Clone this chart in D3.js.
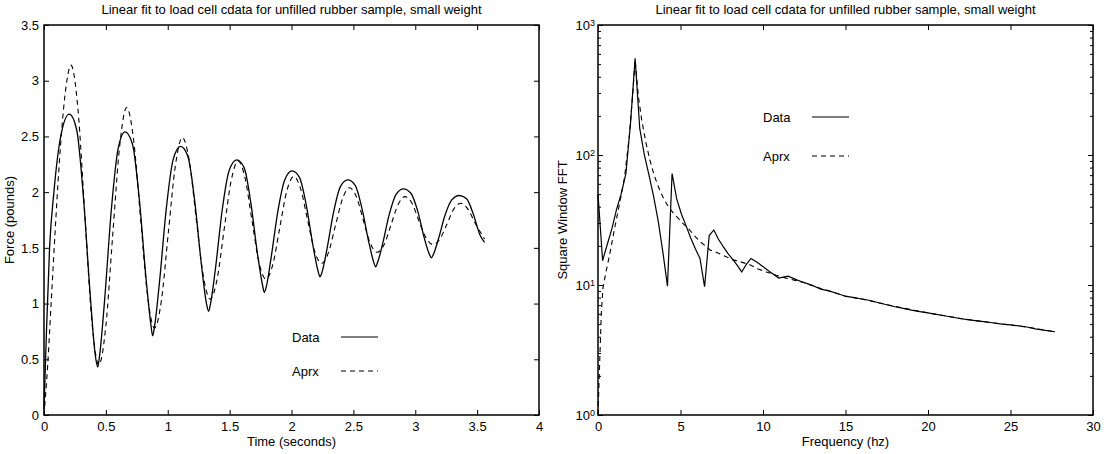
<!DOCTYPE html>
<html>
<head>
<meta charset="utf-8">
<script src="https://cdn.jsdelivr.net/npm/d3@7"></script>
<style>
  body { margin: 0; background: #fff; }
  text { font-family: "Liberation Sans", Arial, sans-serif; fill: #000; }
</style>
</head>
<body>
<div id="wrapper"></div>
<script>
// ---- left panel: time series (seconds, pounds) ----
const timeData = [0, 0.02, 0.045, 0.08, 0.135, 0.204, 0.264, 0.319, 0.374, 0.414, 0.434, 0.45, 0.489, 0.544, 0.599, 0.655,
  0.715, 0.77, 0.825, 0.865, 0.878, 0.894, 0.933, 0.988, 1.043, 1.103, 1.163, 1.218, 1.273, 1.313, 1.33, 1.346, 1.385,
  1.44, 1.495, 1.557, 1.617, 1.672, 1.727, 1.767, 1.78, 1.796, 1.835, 1.89, 1.945, 2.005, 2.065, 2.12, 2.175, 2.215,
  2.23, 2.246, 2.285, 2.34, 2.395, 2.455, 2.515, 2.57, 2.625, 2.665, 2.68, 2.696, 2.735, 2.79, 2.845, 2.905, 2.965,
  3.02, 3.075, 3.115, 3.13, 3.146, 3.185, 3.24, 3.295, 3.355, 3.415, 3.47, 3.525, 3.56];
const forceData = [0.05, 0.75, 1.5, 2.0, 2.5, 2.70, 2.56, 1.95, 1.07, 0.54, 0.43, 0.54, 1.02, 1.84, 2.39, 2.54,
  2.43, 1.94, 1.22, 0.80, 0.71, 0.80, 1.19, 1.85, 2.29, 2.41, 2.32, 1.92, 1.34, 1.00, 0.93, 1.00, 1.31,
  1.84, 2.19, 2.29, 2.22, 1.90, 1.43, 1.16, 1.10, 1.15, 1.41, 1.83, 2.11, 2.19, 2.13, 1.88, 1.51, 1.29,
  1.24, 1.28, 1.48, 1.82, 2.05, 2.11, 2.06, 1.85, 1.55, 1.37, 1.33, 1.37, 1.53, 1.80, 1.98, 2.03, 1.99,
  1.83, 1.58, 1.44, 1.41, 1.44, 1.57, 1.79, 1.93, 1.97, 1.94, 1.80, 1.61, 1.55];

const timeAprx = [0, 0.03, 0.06, 0.09, 0.12, 0.15, 0.185, 0.218, 0.274, 0.33, 0.387, 0.443, 0.499, 0.555, 0.612, 0.668,
  0.724, 0.78, 0.837, 0.893, 0.949, 1.005, 1.062, 1.118, 1.174, 1.23, 1.287, 1.343, 1.399, 1.455, 1.512, 1.568,
  1.624, 1.68, 1.737, 1.793, 1.849, 1.905, 1.962, 2.018, 2.074, 2.13, 2.187, 2.243, 2.299, 2.355, 2.412, 2.468,
  2.524, 2.58, 2.637, 2.693, 2.749, 2.805, 2.862, 2.918, 2.974, 3.03, 3.087, 3.143, 3.199, 3.255, 3.312, 3.368,
  3.424, 3.48, 3.56];
const forceAprx = [0, 0.45, 1.05, 1.65, 2.2, 2.65, 3.0, 3.14, 2.75, 1.80, 0.84, 0.45, 0.79, 1.61, 2.42, 2.76,
  2.47, 1.77, 1.07, 0.78, 1.03, 1.64, 2.24, 2.49, 2.28, 1.76, 1.25, 1.04, 1.22, 1.66, 2.10, 2.28,
  2.13, 1.75, 1.37, 1.22, 1.35, 1.68, 2.01, 2.14, 2.03, 1.75, 1.47, 1.36, 1.46, 1.70, 1.94, 2.04,
  1.96, 1.75, 1.54, 1.46, 1.53, 1.71, 1.89, 1.96, 1.90, 1.74, 1.59, 1.53, 1.58, 1.71, 1.85, 1.90,
  1.85, 1.73, 1.58];

const timeTicks = [0, 0.5, 1, 1.5, 2, 2.5, 3, 3.5, 4];
const forceTicks = [0, 0.5, 1, 1.5, 2, 2.5, 3, 3.5];

// ---- right panel: spectrum (hz, |FFT|) ----
const freqData = [0, 0.28, 0.56, 0.84, 1.12, 1.4, 1.69, 1.97, 2.25, 2.53, 2.81, 3.09, 3.37, 3.65, 3.93, 4.21, 4.49,
  4.77, 5.06, 5.34, 5.62, 5.9, 6.18, 6.46, 6.74, 7.02, 7.3, 7.58, 7.87, 8.15, 8.43, 8.71, 8.99, 9.27, 9.55, 9.83,
  10.11, 10.39, 10.67, 10.95, 11.23, 11.52, 11.8, 12.08, 12.36, 12.64, 13, 13.5, 14, 14.5, 15, 15.5, 16, 16.5,
  17, 17.5, 18, 18.5, 19, 19.5, 20, 20.5, 21, 21.5, 22, 22.5, 23, 23.5, 24, 24.5, 25, 25.5, 26, 26.5, 27, 27.7];
const fftData = [50, 15.4, 20.5, 27, 38, 50, 72, 175, 555, 160, 100, 70, 48, 31, 18, 9.8, 72,
  46, 35, 28.5, 23, 19, 16, 9.7, 24, 26.5, 22.5, 19.8, 17.5, 15.8, 14.2, 12.6, 14.4, 16, 15.2, 14.4,
  13.5, 12.7, 12.0, 11.3, 11.5, 11.7, 11.3, 10.9, 10.6, 10.3, 9.9, 9.3, 9.0, 8.6, 8.2, 8.0, 7.8, 7.6,
  7.3, 7.05, 6.8, 6.6, 6.4, 6.25, 6.1, 5.95, 5.8, 5.65, 5.5, 5.4, 5.3, 5.2, 5.1, 5.0, 4.93, 4.85, 4.75, 4.6, 4.5, 4.37];

const freqAprx = [0, 0.1, 0.2, 0.3, 0.45, 0.7, 1.0, 1.3, 1.6, 1.9, 2.1, 2.25, 2.45, 2.65, 2.9, 3.15, 3.4, 3.66,
  3.95, 4.26, 4.55, 4.87, 5.17, 5.47, 5.8, 6.18, 6.5, 6.79, 7.1, 7.4, 7.8, 8.2, 8.7, 9.2, 9.7, 10.2, 10.8,
  11.4, 12, 12.5, 13, 13.5, 14, 14.5, 15, 16, 17, 18, 19, 20, 21, 22, 23, 24, 25, 26, 27, 27.7];
const fftAprx = [1, 2.5, 6, 9.5, 12, 17, 27, 42, 66, 140, 290, 540, 280, 186, 125, 91, 70, 57,
  47, 40, 36, 32.5, 29.5, 27.3, 24.3, 21.6, 20, 18.6, 18, 17.3, 16.4, 15.6, 15, 14.3, 13.3, 12.6, 11.9,
  11.3, 10.8, 10.4, 9.9, 9.4, 9.0, 8.6, 8.2, 7.8, 7.3, 6.85, 6.45, 6.1, 5.8, 5.52, 5.3, 5.1, 4.92, 4.75, 4.52, 4.37];

const freqTicks = [0, 5, 10, 15, 20, 25, 30];
const fftMajor = [1, 10, 100, 1000];
const fftMinor = [2, 3, 4, 5, 6, 7, 8, 9, 20, 30, 40, 50, 60, 70, 80, 90, 200, 300, 400, 500, 600, 700, 800, 900];

const titleText = 'Linear fit to load cell cdata for unfilled rubber sample, small weight';
const legendNames = ['Data', 'Aprx'];

const width = 1104, height = 454;
const plotTop = 25, plotBottom = 415;
const dash = '5,4';

const svg = d3.select('#wrapper').append('svg')
  .attr('width', width)
  .attr('height', height);

function styleAxis(g) {
  g.select('.domain').remove();
  g.attr('font-family', null).attr('font-size', null);
  g.selectAll('line').attr('stroke', '#000').attr('stroke-width', 1);
  g.selectAll('text').style('font-size', '13px');
}

function frame(x) {
  svg.append('rect')
    .attr('x', x.range()[0]).attr('y', plotTop)
    .attr('width', x.range()[1] - x.range()[0]).attr('height', plotBottom - plotTop)
    .attr('fill', 'none').attr('stroke', '#000').attr('stroke-width', 1.5);
}

function xAxes(x, ticks, fmt) {
  svg.append('g').attr('transform', `translate(0,${plotBottom})`)
    .call(d3.axisBottom(x).tickValues(ticks).tickSizeInner(-5).tickSizeOuter(0).tickPadding(7).tickFormat(fmt))
    .call(styleAxis);
  svg.append('g').attr('transform', `translate(0,${plotTop})`)
    .call(d3.axisTop(x).tickValues(ticks).tickSizeInner(-5).tickSizeOuter(0).tickFormat(''))
    .call(styleAxis);
}

function titles(x, xLabel, yLabel, yLabelX) {
  const cx = (x.range()[0] + x.range()[1]) / 2;
  svg.append('text').attr('x', cx).attr('y', 14)
    .attr('text-anchor', 'middle').style('font-size', '13px').text(titleText);
  svg.append('text').attr('x', cx).attr('y', 446)
    .attr('text-anchor', 'middle').style('font-size', '13px').text(xLabel);
  svg.append('text')
    .attr('transform', `translate(${yLabelX},${(plotTop + plotBottom) / 2}) rotate(-90)`)
    .attr('text-anchor', 'middle').style('font-size', '13px').text(yLabel);
}

function legend(lx, ly, gap) {
  legendNames.forEach((name, i) => {
    const yy = ly + i * gap;
    svg.append('text').attr('x', lx).attr('y', yy).attr('dy', '0.35em')
      .style('font-size', '13px').text(name);
    svg.append('line')
      .attr('x1', lx + 49).attr('x2', lx + 86).attr('y1', yy).attr('y2', yy)
      .attr('stroke', '#000').attr('stroke-width', 1.2)
      .attr('stroke-dasharray', i === 1 ? dash : null);
  });
}

// ---------- left: force vs time ----------
const xT = d3.scaleLinear().domain([0, 4]).range([44, 539]);
const yF = d3.scaleLinear().domain([0, 3.5]).range([plotBottom, plotTop]);

xAxes(xT, timeTicks, d3.format('~g'));
svg.append('g').attr('transform', `translate(${xT.range()[0]},0)`)
  .call(d3.axisLeft(yF).tickValues(forceTicks).tickSizeInner(-5).tickSizeOuter(0).tickPadding(5).tickFormat(d3.format('~g')))
  .call(styleAxis);
svg.append('g').attr('transform', `translate(${xT.range()[1]},0)`)
  .call(d3.axisRight(yF).tickValues(forceTicks).tickSizeInner(-5).tickSizeOuter(0).tickFormat(''))
  .call(styleAxis);

const lineT = d3.line().x(d => xT(d[0])).y(d => yF(d[1])).curve(d3.curveMonotoneX);
svg.append('path').attr('d', lineT(d3.zip(timeData, forceData)))
  .attr('fill', 'none').attr('stroke', '#000').attr('stroke-width', 1.3);
svg.append('path').attr('d', lineT(d3.zip(timeAprx, forceAprx)))
  .attr('fill', 'none').attr('stroke', '#000').attr('stroke-width', 1.1).attr('stroke-dasharray', dash);

frame(xT);
titles(xT, 'Time (seconds)', 'Force (pounds)', 14);
legend(292, 337, 34);

// ---------- right: spectrum ----------
const xF = d3.scaleLinear().domain([0, 30]).range([598, 1093]);
const yS = d3.scaleLog().domain([1, 1000]).range([plotBottom, plotTop]);

xAxes(xF, freqTicks, d3.format('d'));
[[d3.axisLeft, xF.range()[0]], [d3.axisRight, xF.range()[1]]].forEach(([ax, px]) => {
  svg.append('g').attr('transform', `translate(${px},0)`)
    .call(ax(yS).tickValues(fftMajor).tickSizeInner(-5).tickSizeOuter(0).tickFormat(''))
    .call(styleAxis);
  svg.append('g').attr('transform', `translate(${px},0)`)
    .call(ax(yS).tickValues(fftMinor).tickSizeInner(-3).tickSizeOuter(0).tickFormat(''))
    .call(styleAxis);
});
const expLabels = svg.append('g').selectAll('text').data(fftMajor).join('text')
  .attr('x', xF.range()[0] - 3).attr('y', d => yS(d)).attr('dy', '0.35em')
  .attr('text-anchor', 'end').style('font-size', '13px');
expLabels.append('tspan').text('10');
expLabels.append('tspan').attr('dy', '-0.45em').style('font-size', '9px').text(d => Math.round(Math.log10(d)));

const lineF = d3.line().x(d => xF(d[0])).y(d => yS(d[1]));
svg.append('path').attr('d', lineF(d3.zip(freqData, fftData)))
  .attr('fill', 'none').attr('stroke', '#000').attr('stroke-width', 1.2);
svg.append('path').attr('d', lineF(d3.zip(freqAprx, fftAprx)))
  .attr('fill', 'none').attr('stroke', '#000').attr('stroke-width', 1.1).attr('stroke-dasharray', dash);

frame(xF);
titles(xF, 'Frequency (hz)', 'Square Window FFT', 567);
legend(763, 117, 39);
</script>
</body>
</html>
